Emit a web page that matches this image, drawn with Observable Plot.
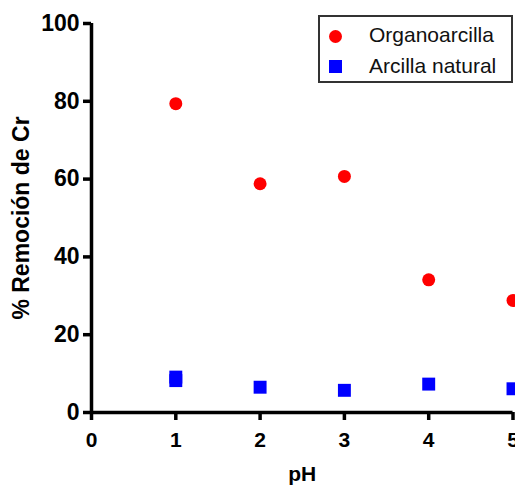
<!DOCTYPE html>
<html>
<head>
<meta charset="utf-8">
<script src="https://cdn.jsdelivr.net/npm/d3@7"></script>
<script src="https://cdn.jsdelivr.net/npm/@observablehq/plot@0.6"></script>
<style>
  html, body { margin: 0; padding: 0; background: #fff; overflow: hidden; }
  #wrap { position: relative; width: 515px; height: 485px; }
  #legend { position: absolute; left: 318px; top: 15px; width: 195px; height: 68px;
            box-sizing: border-box; border: 2px solid #333; background: #fff;
            font-family: "Liberation Sans", Arial, sans-serif; font-size: 21px; color: #111; }
  .sym { position: absolute; }
  .lab { position: absolute; left: 49px; line-height: 24px; height: 24px; white-space: nowrap; }
</style>
</head>
<body>
<div id="wrap"><div id="legend"></div></div>
<script>
// Data
const pHValues = [1, 2, 3, 4, 5];
const organoarcilla = [79.4, 58.8, 60.7, 34.1, 28.8];
const arcillaPH = [1, 1, 2, 3, 4, 5];
const arcillaNatural = [9.1, 8.2, 6.5, 5.7, 7.3, 6.1];
const xTicks = [0, 1, 2, 3, 4, 5];
const yTicks = [0, 20, 40, 60, 80, 100];
const seriesNames = ["Organoarcilla", "Arcilla natural"];
const seriesColors = ["#ff0000", "#0000ff"];
const seriesSymbols = ["circle", "square"];

const organoData = pHValues.map((x, i) => ({x, y: organoarcilla[i]}));
const arcillaData = arcillaPH.map((x, i) => ({x, y: arcillaNatural[i]}));

const chart = Plot.plot({
  width: 515,
  height: 485,
  marginLeft: 91,
  marginRight: 2.5,
  marginTop: 23,
  marginBottom: 73,
  x: {domain: [0, 5]},
  y: {domain: [0, 100]},
  style: {fontFamily: "'Liberation Sans', Arial, sans-serif", fontWeight: "bold", fontSize: "21px", color: "#000", background: "#fff"},
  marks: [
    Plot.axisX({ticks: xTicks, tickFormat: d3.format("d"), tickSize: 8, tickPadding: 12, strokeWidth: 3.5, stroke: "#000",
      label: "pH", labelAnchor: "center", labelArrow: "none", labelOffset: 68, fontSize: 21, fontWeight: "bold"}),
    Plot.axisY({ticks: yTicks, tickFormat: d3.format("d"), tickSize: 8, tickPadding: 4, strokeWidth: 3.5, stroke: "#000",
      label: "% Remoción de Cr", labelAnchor: "center", labelArrow: "none", labelOffset: 79, fontSize: 23, fontWeight: "bold"}),
    Plot.ruleX([0], {strokeWidth: 3.5, stroke: "#000"}),
    Plot.ruleY([0], {strokeWidth: 3.5, stroke: "#000"}),
    Plot.dot(arcillaData, {x: "x", y: "y", symbol: "square", r: 7.3, fill: seriesColors[1], stroke: "none"}),
    Plot.dot(organoData, {x: "x", y: "y", symbol: "circle", r: 6.5, fill: seriesColors[0], stroke: "none"})
  ]
});
document.getElementById("wrap").prepend(chart);

// Legend
const legend = document.getElementById("legend");
const symCenters = [19, 49.7];
const labTops = [6, 37];
seriesNames.forEach((name, i) => {
  const sym = document.createElement("div");
  sym.className = "sym";
  sym.style.left = "8.5px";
  sym.style.top = (symCenters[i] - 6.5) + "px";
  sym.innerHTML = seriesSymbols[i] === "circle"
    ? `<svg width="13" height="13" style="display:block"><circle cx="6.5" cy="6.5" r="6.5" fill="${seriesColors[i]}"/></svg>`
    : `<svg width="13" height="13" style="display:block"><rect x="0" y="0" width="13" height="13" fill="${seriesColors[i]}"/></svg>`;
  legend.appendChild(sym);
  const lab = document.createElement("div");
  lab.className = "lab";
  lab.style.top = labTops[i] + "px";
  lab.textContent = name;
  legend.appendChild(lab);
});
</script>
</body>
</html>
